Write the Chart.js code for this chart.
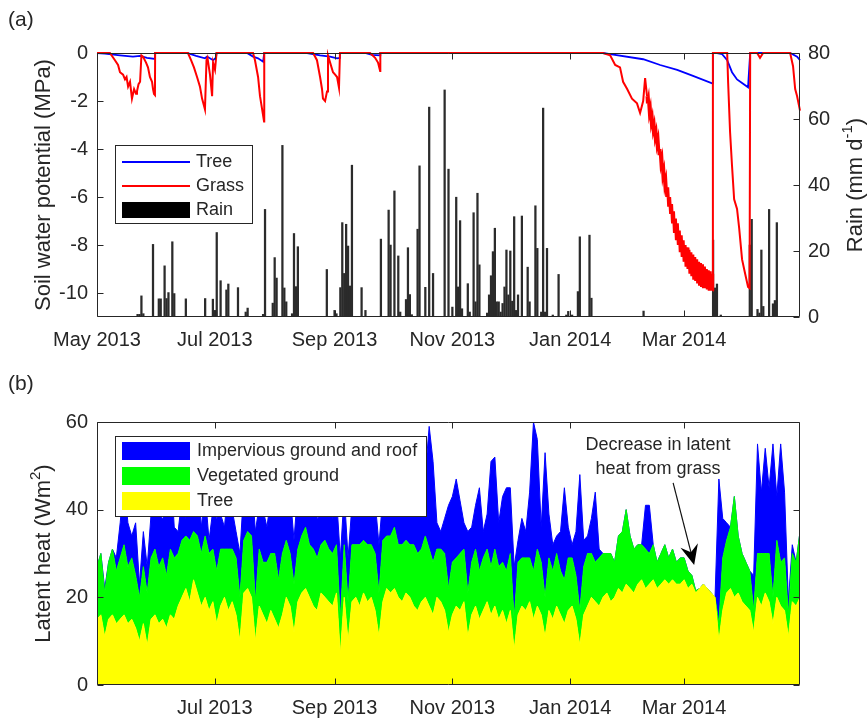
<!DOCTYPE html>
<html><head><meta charset="utf-8">
<script src="https://cdn.jsdelivr.net/npm/chart.js@4.4.1/dist/chart.umd.min.js"></script>
<style>
html,body{margin:0;padding:0;background:#fff;}
#wrap{position:relative;width:867px;height:719px;}
canvas{position:absolute;left:0;}
#c1{top:0;} #c2{top:360px;}
</style></head><body>
<div id="wrap"><canvas id="c1" width="867" height="360"></canvas><canvas id="c2" width="867" height="359"></canvas></div>
<script>
// ---------- x axis (days since 1 May 2013) ----------
const tickDays = [0, 61, 123, 184, 245, 304];
const tickLabelsTop = ['May 2013', 'Jul 2013', 'Sep 2013', 'Nov 2013', 'Jan 2014', 'Mar 2014'];
const tickLabelsBottom = ['', 'Jul 2013', 'Sep 2013', 'Nov 2013', 'Jan 2014', 'Mar 2014'];
const swpTicks = [-10, -8, -6, -4, -2, 0];
const rainTicks = [0, 20, 40, 60, 80];
const leTicks = [0, 20, 40, 60];

// ---------- (a) soil water potential, MPa ----------
const treeDay = [0,4.1,11.9,18.6,22.3,25.9,30,30.1,46.6,51.3,55.9,57,60.1,61.6,61.9,77.7,80.8,83.4,86,86.6,108.8,115.5,120.7,124.3,125.6,125.8,138.8,142.4,146.6,146.7,262,265.7,282.8,291.6,300.4,308.6,318.5,318.9,321.1,323.7,326.3,328.8,331.4,334,337.1,338.2,358.9,362.5,364];
const treeSWP = [0,-0.03,-0.1,-0.15,-0.12,-0.2,-0.25,0,0,-0.12,-0.22,-0.15,-0.3,-0.2,0,0,-0.15,-0.22,-0.36,0,0,-0.1,-0.15,-0.22,-0.2,0,0,-0.08,-0.1,0,0,-0.05,-0.26,-0.5,-0.7,-0.95,-1.26,0,0,-0.05,-0.3,-0.8,-1.1,-1.25,-1.43,0,0,-0.15,-0.3];

const grassDay = [0,6.7,9.3,10.9,11.9,13.5,14.5,15.3,16.1,17.1,18.1,19.2,20.2,20.7,21.5,22.3,23,23.8,25.4,26.4,27.4,28.5,29,29.5,30,30.1,
47.1,48.7,50.2,51.8,53.3,54.4,55.4,55.9,56.7,57.2,58.5,59.6,60.1,61.1,61.9,
80.8,81.8,83.4,84.4,85.4,86.5,86.6,
111.9,113.9,115.5,116.5,117,118.1,119.1,119.6,120.7,122.2,123.3,124.3,125.3,125.8,
141.4,144,145.5,146.6,146.7,
262,265.7,268.3,270.8,272.4,274.5,277,279.6,281.2,282.8,283.8,284.8,
285,285.5,286,286.5,287,287.5,288,288.5,289,289.5,290,290.5,291,291.5,292,292.5,293,293.5,294,294.5,295,295.5,296,296.5,297,297.5,298,298.5,299,299.5,300,300.5,301,301.5,302,302.5,303,303.5,304,304.5,305,305.5,306,306.5,307,307.5,308,308.5,309,309.5,310,310.5,311,311.5,312,312.5,313,313.5,314,314.5,315,315.5,316,316.5,317,317.5,318,318.5,318.8,318.9,
326.3,326.8,327.8,328.8,329.9,331.4,332.5,334,335.6,337.1,337.9,338.2,
341.8,343.3,344.9,358.9,360.4,361.5,362.5,364];
const grassSWP = [0,0,-0.3,-0.5,-0.8,-0.9,-1.1,-1.0,-1.4,-1.2,-1.9,-1.5,-1.7,-1.6,-1.3,-1.2,-0.1,-0.15,-0.4,-0.6,-1.0,-1.2,-1.5,-1.7,-1.75,0,
0,-0.3,-0.6,-1.0,-1.4,-1.9,-2.2,-2.35,-0.3,-0.2,-0.9,-1.8,-0.4,-0.7,0,
0,-0.3,-1.0,-1.8,-2.3,-2.85,0,
0,-0.3,-1.0,-1.5,-1.9,-2.0,-1.6,-0.1,-0.4,-0.8,-0.9,-1.0,-1.45,0,
0,-0.2,-0.4,-0.75,0,
0,-0.1,-0.5,-0.6,-1.2,-1.5,-1.9,-2.1,-2.5,-2.0,-1.05,-1.8,
-2.1,-1.9,-2.5,-2.3,-2.9,-2.7,-3.2,-3.0,-3.5,-3.3,-3.8,-3.6,-4.2,-4.0,-4.6,-4.4,-5.1,-4.9,-5.5,-5.3,-6.0,-5.6,-6.4,-6.0,-6.7,-6.3,-7.1,-6.6,-7.5,-6.9,-7.8,-7.1,-8.0,-7.4,-8.3,-7.6,-8.5,-7.8,-8.7,-8.0,-8.9,-8.1,-9.0,-8.2,-9.2,-8.3,-9.3,-8.4,-9.45,-8.5,-9.5,-8.6,-9.6,-8.7,-9.7,-8.75,-9.75,-8.8,-9.8,-8.9,-9.8,-9.0,-9.85,-9.05,-9.9,-9.1,-9.9,-9.2,-9.9,0,
0,-1.25,-3.3,-4.7,-6.1,-6.5,-7.3,-8.6,-9.2,-9.75,-9.8,0,
0,-0.2,0,0,-0.55,-1.5,-1.8,-2.4];

// ---------- (a) daily rain, mm/d ----------
const rainDay = [21,22,23,24,29,32,33,35,36,37,39,40,46,56,60,61,62,64,67,68,73,77,78,86,87,91,92,93,96,97,98,101,102,103,104,
119,123,124,126,127,128,129,130,131,132,137,139,147,151,152,154,156,157,160,161,162,163,166,167,170,172,174,180,182,184,186,187,188,189,192,193,195,196,197,198,
202,203,204,205,206,207,208,209,210,211,212,213,214,215,216,217,218,220,223,224,227,228,230,231,232,233,236,239,243,244,246,249,250,255,256,283,
319,320,321,323,338,339,342,343,344,345,348,350,351,352];
const rainMM = [0.8,0.8,6.4,1,22,5.5,5.5,15.5,5.6,7.4,22.8,7.1,5.5,5.6,5.4,2,25.6,11,8.2,10,8.9,1.5,2.7,0.8,32.6,4.2,18,11.8,52,8.8,4.6,1,25.3,9.2,21.3,
14.4,2,1,8.9,28.6,13.2,28.1,21.5,9.4,46,8.9,2,23.6,32.4,21.8,38.2,18.5,1.5,5.3,21,6.8,0.7,26.6,45.8,9,63.6,13.2,68.8,44.8,3,36.3,9.1,29.2,2.5,10.1,1.5,31.6,4.6,37.5,15.8,
1.2,6.7,12.5,19.8,26.9,4.6,4.6,1.5,4.1,9.1,20.3,6.7,20,4.8,30.4,2,6.7,30.6,15.1,4.6,33.7,20.8,1.5,63.3,1.5,20.8,0.6,12.9,0.6,1.7,0.6,7.7,24.3,24.8,5.7,1.8,
23.3,8.8,10,0.6,21.8,29.6,2.3,1.2,20.3,3.2,32.6,4,5,28.6];

// ---------- (b) latent heat, W m-2, every 2nd day ----------
const latentStep = 2;
const treeLE = [15,16,11,15,16,14,15,16,14,15,13,
10,14,9,15,16,14,15,13,16,15,
18,20,22,19,24,21,18,20,17,19,
14,18,20,17,19,16,10,21,22,20,
10,18,16,14,17,15,13,16,20,18,
12,19,21,22,20,18,17,21,20,19,
18,21,7,20,10,19,20,18,21,19,
20,17,11,19,22,21,22,20,19,21,
20,18,17,19,20,18,16,20,19,17,
12,16,18,17,19,11,16,18,15,17,
19,16,18,15,17,14,17,8,16,18,
17,19,15,18,16,11,17,15,18,16,
14,17,18,15,9,16,18,20,19,18,
20,21,19,20,22,21,23,22,21,23,
24,22,23,24,22,23,24,23,24,23,
23,24,22,23,21,22,23,22,21,20,
10,17,21,22,20,21,19,18,17,12,
20,18,21,19,14,20,18,17,11,19,18,20];
const vegLE = [12,14,10,13,15,12,14,16,13,14,12,
10,13,12,14,15,13,14,12,15,14,
12,13,12,14,11,13,12,14,13,12,
12,13,11,14,12,13,10,12,13,14,
9,13,12,14,13,15,11,14,13,12,
11,12,13,14,12,13,12,11,13,12,
12,11,8,12,9,13,12,14,12,13,
12,13,10,14,12,13,14,12,13,12,
12,14,13,12,14,13,12,11,12,13,
10,12,11,13,12,10,12,13,11,12,
12,11,13,12,11,12,13,7,12,11,
12,10,11,13,12,9,12,11,12,10,
10,12,11,10,8,11,12,10,9,11,
10,9,11,8,12,14,17,12,10,9,
8,9,7,8,6,7,8,6,7,5,
6,5,4,2,0.5,0,0,0,0,0,
4,12,12,14,23,13,11,10,9,5,
10,12,9,11,6,13,10,12,5,11,10,15];
const impLE = [0,0,1,0,0,3,8,15,10,5,12,
3,8,6,10,15,12,9,14,20,7,
5,10,4,12,8,15,6,10,3,9,
12,8,5,15,9,6,10,12,8,14,
16,10,12,8,13,11,15,12,9,14,
10,14,12,8,11,13,9,7,12,10,
8,11,14,12,10,9,13,10,8,12,
9,12,11,10,13,8,12,11,10,9,
12,10,13,11,14,28,23,6,4,8,
19,15,18,12,6,14,8,10,19,6,
8,24,21,10,15,19,15,12,5,9,
6,15,34,25,8,33,10,6,4,9,
21,7,3,10,31,6,4,8,16,2,
0,0,0,0,0,0,0,0,0,0,
0,10,11,0,0,0,0,0,0,0,
0,0,0,0,0,0,0,0,0,0,
33,9,4,0,0,0,0,0,0,8,
25,14,24,15,35,10,27,15,3,2,0,0];

// ---------- helpers ----------
const FONT = "'Liberation Sans', Arial, Helvetica, sans-serif";
const AXC = '#262626';
function pairs(xs, ys) { return ys.map((v, i) => ({ x: xs[i], y: v })); }
const latDay = treeLE.map((_, i) => i * latentStep);

function setTicks(vals) { return (s) => { s.ticks = vals.map(v => ({ value: v })); }; }

function richText(ctx, parts, cx, cy, rot) {
  ctx.save();
  ctx.translate(cx, cy);
  if (rot) ctx.rotate(rot);
  let total = 0;
  parts.forEach(p => { ctx.font = p.sup ? `15px ${FONT}` : `22px ${FONT}`; p.w = ctx.measureText(p.t).width; total += p.w; });
  let x = -total / 2;
  ctx.fillStyle = AXC; ctx.textBaseline = 'middle'; ctx.textAlign = 'left';
  parts.forEach(p => { ctx.font = p.sup ? `15px ${FONT}` : `22px ${FONT}`; ctx.fillText(p.t, x, p.sup ? -8 : 0); x += p.w; });
  ctx.restore();
}

function frame(chart, xKey, leftKey, leftVals, rightKey, rightVals) {
  const { ctx, chartArea: a, scales } = chart;
  const L = Math.round(a.left) + 0.5, R = Math.round(a.right) - 0.5, T = Math.round(a.top) + 0.5, B = Math.round(a.bottom) - 0.5;
  ctx.save();
  ctx.strokeStyle = AXC; ctx.lineWidth = 1;
  ctx.beginPath();
  ctx.rect(L, T, R - L, B - T);
  tickDays.forEach(d => {
    const px = Math.round(scales[xKey].getPixelForValue(d)) + 0.5;
    ctx.moveTo(px, B); ctx.lineTo(px, B - 6);
    ctx.moveTo(px, T); ctx.lineTo(px, T + 6);
  });
  leftVals.forEach(v => { const py = Math.round(scales[leftKey].getPixelForValue(v)) + 0.5; ctx.moveTo(L, py); ctx.lineTo(L + 6, py); });
  rightVals.forEach(v => { const py = Math.round(scales[rightKey].getPixelForValue(v)) + 0.5; ctx.moveTo(R, py); ctx.lineTo(R - 6, py); });
  ctx.stroke();
  ctx.restore();
}

const xCommon = (labels) => ({
  type: 'linear', min: 0, max: 364, offset: false,
  grid: { display: false, drawTicks: false }, border: { display: false },
  ticks: { autoSkip: false, maxRotation: 0, padding: 11, color: AXC, font: { family: FONT, size: 20 },
           callback: (v) => { const k = tickDays.indexOf(v); return k >= 0 ? labels[k] : ''; } },
  afterBuildTicks: setTicks(tickDays)
});

// ---------- chart (a) ----------
const topPlugin = {
  id: 'topDecor',
  afterDraw(chart) {
    const { ctx, chartArea: a } = chart;
    frame(chart, 'x', 'y', swpTicks, 'yRain', rainTicks);
    ctx.save();
    ctx.fillStyle = AXC; ctx.font = `21px ${FONT}`; ctx.textBaseline = 'middle'; ctx.textAlign = 'left';
    ctx.fillText('(a)', 8, 20);
    ctx.restore();
    richText(ctx, [{ t: 'Soil water potential (MPa)' }], 44, (a.top + a.bottom) / 2, -Math.PI / 2);
    richText(ctx, [{ t: 'Rain (mm d' }, { t: '-1', sup: true }, { t: ')' }], 856, (a.top + a.bottom) / 2, -Math.PI / 2);
    // legend
    const bx = a.left + 18, by = a.top + 92, bw = 137, bh = 78;
    ctx.save();
    ctx.fillStyle = '#fff'; ctx.fillRect(bx, by, bw, bh);
    ctx.strokeStyle = AXC; ctx.lineWidth = 1; ctx.strokeRect(bx + 0.5, by + 0.5, bw, bh);
    ctx.lineWidth = 2;
    ctx.strokeStyle = '#0000ff'; ctx.beginPath(); ctx.moveTo(bx + 7, by + 17); ctx.lineTo(bx + 75, by + 17); ctx.stroke();
    ctx.strokeStyle = '#ff0000'; ctx.beginPath(); ctx.moveTo(bx + 7, by + 41); ctx.lineTo(bx + 75, by + 41); ctx.stroke();
    ctx.fillStyle = '#000'; ctx.fillRect(bx + 7, by + 57, 68, 16);
    ctx.fillStyle = AXC; ctx.font = `18px ${FONT}`; ctx.textBaseline = 'middle';
    ctx.fillText('Tree', bx + 81, by + 17);
    ctx.fillText('Grass', bx + 81, by + 41);
    ctx.fillText('Rain', bx + 81, by + 65);
    ctx.restore();
  }
};

new Chart(document.getElementById('c1'), {
  type: 'bar',
  data: {
    datasets: [
      { type: 'line', label: 'Grass', data: pairs(grassDay, grassSWP), yAxisID: 'y', borderColor: '#ff0000', borderWidth: 2, pointRadius: 0, tension: 0, order: 0, clip: 4,
        segment: { borderWidth: (c) => (c.p0.parsed.x >= 284.8 && c.p1.parsed.x <= 318.8) ? 3 : 2 } },
      { type: 'line', label: 'Tree', data: pairs(treeDay, treeSWP), yAxisID: 'y', borderColor: '#0000ff', borderWidth: 1.8, pointRadius: 0, tension: 0, order: 1, clip: 4 },
      { type: 'bar', label: 'Rain', data: pairs(rainDay, rainMM), yAxisID: 'yRain', backgroundColor: '#2b2b2b', barThickness: 1.6, grouped: false, order: 2 }
    ]
  },
  options: {
    responsive: false, animation: false, devicePixelRatio: 1,
    layout: { padding: { top: 53, left: 0, right: 0, bottom: 0 } },
    plugins: { legend: { display: false }, tooltip: { enabled: false } },
    scales: {
      x: Object.assign(xCommon(tickLabelsTop), { afterFit: (s) => { s.height = 43; } }),
      y: { position: 'left', min: -11, max: 0, grid: { display: false, drawTicks: false }, border: { display: false },
           ticks: { padding: 9, color: AXC, font: { family: FONT, size: 20 } },
           afterBuildTicks: setTicks(swpTicks), afterFit: (s) => { s.width = 97; } },
      yRain: { position: 'right', min: 0, max: 80, grid: { display: false, drawTicks: false }, border: { display: false },
           ticks: { padding: 8, color: AXC, font: { family: FONT, size: 20 } },
           afterBuildTicks: setTicks(rainTicks), afterFit: (s) => { s.width = 67; } }
    }
  },
  plugins: [topPlugin]
});

// ---------- chart (b) ----------
const botPlugin = {
  id: 'botDecor',
  afterDraw(chart) {
    const { ctx, chartArea: a, scales } = chart;
    frame(chart, 'x', 'y', leTicks, 'y', leTicks);
    ctx.save();
    ctx.fillStyle = AXC; ctx.font = `21px ${FONT}`; ctx.textBaseline = 'middle'; ctx.textAlign = 'left';
    ctx.fillText('(b)', 8, 24);
    ctx.restore();
    richText(ctx, [{ t: 'Latent heat (Wm' }, { t: '2', sup: true }, { t: ')' }], 44, (a.top + a.bottom) / 2, -Math.PI / 2);
    // legend
    const bx = a.left + 18, by = a.top + 14, bw = 311, bh = 80;
    ctx.save();
    ctx.fillStyle = '#fff'; ctx.fillRect(bx, by, bw, bh);
    ctx.strokeStyle = AXC; ctx.lineWidth = 1; ctx.strokeRect(bx + 0.5, by + 0.5, bw, bh);
    const items = [['Impervious ground and roof', '#0000ff'], ['Vegetated ground', '#00ff00'], ['Tree', '#ffff00']];
    ctx.font = `18px ${FONT}`; ctx.textBaseline = 'middle';
    items.forEach((it, k) => {
      ctx.fillStyle = it[1]; ctx.fillRect(bx + 7, by + 6 + 25 * k, 68, 18);
      ctx.fillStyle = AXC; ctx.fillText(it[0], bx + 82, by + 15 + 25 * k);
    });
    // annotation
    const X = scales.x, Y = scales.y;
    ctx.fillStyle = AXC; ctx.textAlign = 'center';
    ctx.fillText('Decrease in latent', X.getPixelForValue(290.5), Y.getPixelForValue(54.8));
    ctx.fillText('heat from grass', X.getPixelForValue(290.5), Y.getPixelForValue(49.3));
    const x0 = X.getPixelForValue(298.3), y0 = Y.getPixelForValue(46.1);
    const x1 = X.getPixelForValue(309.2), y1 = Y.getPixelForValue(27.4);
    const ang = Math.atan2(y1 - y0, x1 - x0);
    ctx.strokeStyle = '#111'; ctx.lineWidth = 1.2;
    ctx.beginPath(); ctx.moveTo(x0, y0); ctx.lineTo(x1 - 10 * Math.cos(ang), y1 - 10 * Math.sin(ang)); ctx.stroke();
    ctx.fillStyle = '#000';
    ctx.save(); ctx.translate(x1, y1); ctx.rotate(ang);
    ctx.beginPath(); ctx.moveTo(0, 0); ctx.lineTo(-20, -9); ctx.lineTo(-13, 0); ctx.lineTo(-20, 9); ctx.closePath(); ctx.fill();
    ctx.restore();
    ctx.restore();
  }
};

new Chart(document.getElementById('c2'), {
  type: 'line',
  data: {
    datasets: [
      { label: 'Tree', data: pairs(latDay, treeLE), backgroundColor: '#ffff00', borderColor: '#ffff00', borderWidth: 1, fill: 'origin', pointRadius: 0, tension: 0 },
      { label: 'Vegetated ground', data: pairs(latDay, vegLE), backgroundColor: '#00ff00', borderColor: '#00ff00', borderWidth: 1, fill: '-1', pointRadius: 0, tension: 0 },
      { label: 'Impervious ground and roof', data: pairs(latDay, impLE), backgroundColor: '#0000ff', borderColor: '#0000ff', borderWidth: 1, fill: '-1', pointRadius: 0, tension: 0 }
    ]
  },
  options: {
    responsive: false, animation: false, devicePixelRatio: 1,
    layout: { padding: { top: 62, left: 0, right: 67, bottom: 0 } },
    plugins: { legend: { display: false }, tooltip: { enabled: false } },
    scales: {
      x: Object.assign(xCommon(tickLabelsBottom), { afterFit: (s) => { s.height = 34; } }),
      y: { stacked: true, min: 0, max: 60, grid: { display: false, drawTicks: false }, border: { display: false },
           ticks: { padding: 9, color: AXC, font: { family: FONT, size: 20 } },
           afterBuildTicks: setTicks(leTicks), afterFit: (s) => { s.width = 97; } }
    }
  },
  plugins: [botPlugin]
});
</script>
</body></html>
